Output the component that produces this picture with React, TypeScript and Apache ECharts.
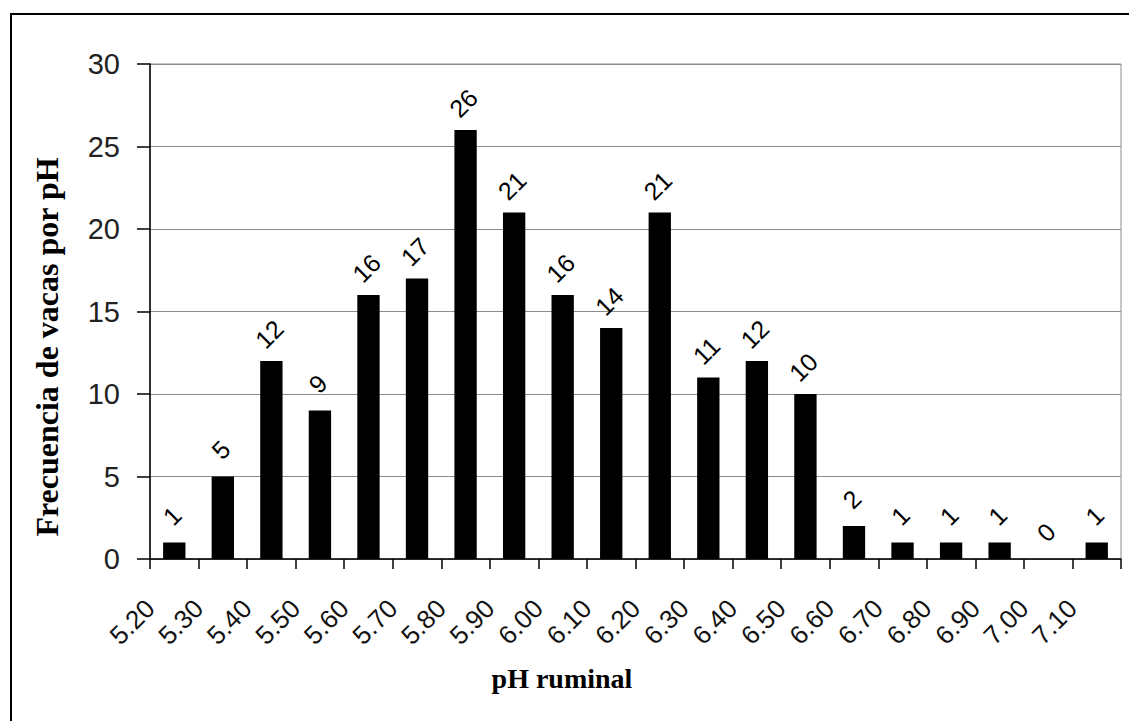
import React, { useEffect, useRef } from "react";
import * as echarts from "echarts";

const phBins = [
  "5.20", "5.30", "5.40", "5.50", "5.60", "5.70", "5.80", "5.90", "6.00", "6.10",
  "6.20", "6.30", "6.40", "6.50", "6.60", "6.70", "6.80", "6.90", "7.00", "7.10",
];
const cowCounts = [1, 5, 12, 9, 16, 17, 26, 21, 16, 14, 21, 11, 12, 10, 2, 1, 1, 1, 0, 1];
const yMin = 0;
const yMax = 30;
const yStep = 5;
const xTitle = "pH ruminal";
const yTitle = "Frecuencia de vacas por pH";

export default function App() {
  const ref = useRef<HTMLDivElement>(null);
  useEffect(() => {
    if (!ref.current) return;
    const chart = echarts.init(ref.current, undefined, { renderer: "svg" });
    chart.setOption({
      animation: false,
      backgroundColor: "#ffffff",
      grid: {
        left: 150,
        top: 64,
        right: 8,
        bottom: 162,
        show: true,
        borderColor: "#8c8c8c",
        borderWidth: 1,
        backgroundColor: "transparent",
      },
      xAxis: [
        {
          type: "category",
          data: phBins,
          position: "bottom",
          boundaryGap: true,
          axisLine: { show: true, lineStyle: { color: "#000", width: 1.5 } },
          axisTick: { show: true, length: 10, lineStyle: { color: "#000", width: 1.5 } },
          axisLabel: { show: false },
          splitLine: { show: false },
        },
        {
          type: "value",
          position: "bottom",
          min: 0,
          max: phBins.length,
          interval: 1,
          axisLine: { show: false },
          axisTick: { show: false },
          splitLine: { show: false },
          axisLabel: {
            show: true,
            rotate: 45,
            margin: 45,
            fontFamily: "Liberation Sans, Arial, sans-serif",
            fontSize: 26,
            color: "#111",
            formatter: (v: number) => (phBins[v] !== undefined ? phBins[v] : ""),
          },
        },
      ],
      yAxis: {
        type: "value",
        min: yMin,
        max: yMax,
        interval: yStep,
        axisLine: { show: true, lineStyle: { color: "#000", width: 1.5 } },
        axisTick: { show: true, length: 13, lineStyle: { color: "#000", width: 1.5 } },
        axisLabel: {
          margin: 30,
          fontFamily: "Liberation Sans, Arial, sans-serif",
          fontSize: 29,
          color: "#222",
        },
        splitLine: { show: true, lineStyle: { color: "#8c8c8c", width: 1 } },
      },
      series: [
        {
          type: "bar",
          xAxisIndex: 0,
          data: cowCounts,
          barWidth: "46%",
          itemStyle: { color: "#000" },
          label: {
            show: true,
            position: "top",
            distance: 29,
            rotate: 45,
            align: "center",
            verticalAlign: "middle",
            offset: [-3, 0],
            fontFamily: "Liberation Sans, Arial, sans-serif",
            fontSize: 25,
            color: "#000",
          },
        },
      ],
      graphic: [
        {
          type: "rect",
          shape: { x: 11, y: 14, width: 1140, height: 740 },
          style: { fill: "none", stroke: "#000", lineWidth: 2 },
          silent: true,
          z: -10,
        },
        {
          type: "text",
          x: 562,
          y: 678,
          style: {
            text: xTitle,
            font: "bold 28px 'Liberation Serif', 'Times New Roman', serif",
            fill: "#000",
            align: "center",
            verticalAlign: "middle",
          },
        },
        {
          type: "text",
          x: 47,
          y: 347,
          rotation: Math.PI / 2,
          style: {
            text: yTitle,
            font: "bold 32px 'Liberation Serif', 'Times New Roman', serif",
            fill: "#000",
            align: "center",
            verticalAlign: "middle",
          },
        },
      ],
    });
    return () => chart.dispose();
  }, []);
  return (
    <div
      ref={ref}
      style={{ position: "fixed", left: 0, top: 0, width: 1129, height: 721, background: "#fff" }}
    />
  );
}
